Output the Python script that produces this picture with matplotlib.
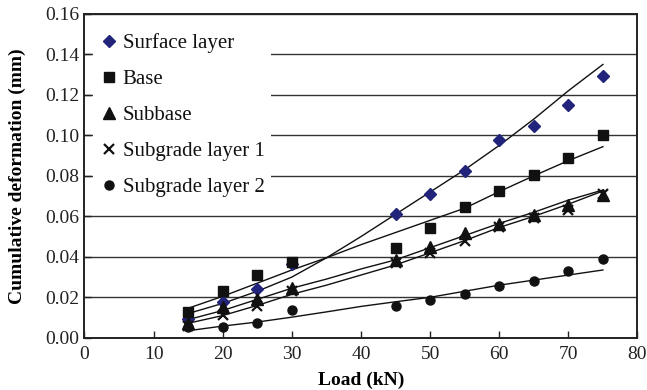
import matplotlib
matplotlib.use("Agg")
import matplotlib.pyplot as plt

plt.rcParams['font.family'] = ['Liberation Serif', 'DejaVu Serif']
plt.rcParams['mathtext.fontset'] = 'stix'

# Measured cumulative deformation (mm) versus load (kN)
loads = [15, 20, 25, 30, 45, 50, 55, 60, 65, 70, 75]
surface_layer = [0.0091, 0.0178, 0.0241, 0.0363, 0.0611, 0.0712, 0.0822, 0.0977, 0.1046, 0.1150, 0.1293]
base = [0.0127, 0.0230, 0.0310, 0.0373, 0.0442, 0.0544, 0.0648, 0.0727, 0.0806, 0.0889, 0.1000]
subbase = [0.0072, 0.0150, 0.0193, 0.0247, 0.0384, 0.0447, 0.0516, 0.0562, 0.0606, 0.0655, 0.0705]
subgrade_layer_1 = [0.0060, 0.0115, 0.0157, 0.0230, 0.0368, 0.0417, 0.0480, 0.0549, 0.0590, 0.0630, 0.0710]
subgrade_layer_2 = [0.0052, 0.0055, 0.0075, 0.0137, 0.0155, 0.0187, 0.0216, 0.0256, 0.0279, 0.0330, 0.0389]

# Predicted deformation curves
curve_loads = [15, 20, 25, 30, 35, 40, 45, 50, 55, 60, 65, 70, 75]
surface_curve = [0.0120, 0.0170, 0.0230, 0.0300, 0.0395, 0.0500, 0.0610, 0.0720, 0.0830, 0.0950, 0.1080, 0.1220, 0.1350]
base_curve = [0.0146, 0.0205, 0.0270, 0.0335, 0.0395, 0.0460, 0.0520, 0.0580, 0.0640, 0.0722, 0.0800, 0.0875, 0.0944]
subbase_curve = [0.0090, 0.0135, 0.0190, 0.0245, 0.0290, 0.0340, 0.0385, 0.0445, 0.0505, 0.0565, 0.0620, 0.0680, 0.0730]
subgrade1_curve = [0.0072, 0.0110, 0.0160, 0.0215, 0.0260, 0.0310, 0.0360, 0.0420, 0.0480, 0.0545, 0.0600, 0.0660, 0.0725]
subgrade2_curve = [0.0035, 0.0058, 0.0078, 0.0102, 0.0128, 0.0155, 0.0178, 0.0200, 0.0230, 0.0260, 0.0285, 0.0310, 0.0335]

x_ticks = [0, 10, 20, 30, 40, 50, 60, 70, 80]
y_ticks = [0.00, 0.02, 0.04, 0.06, 0.08, 0.10, 0.12, 0.14, 0.16]

fig = plt.figure(figsize=(6.47, 3.90), dpi=100)
ax = fig.add_axes([0.1306, 0.1338, 0.8547, 0.8308])

ax.set_xlim(0, 80)
ax.set_ylim(0, 0.16)
ax.set_xticks(x_ticks)
ax.set_yticks(y_ticks)
ax.set_yticklabels([f"{v:.2f}" for v in y_ticks])
ax.tick_params(direction='in', length=5, width=1, labelsize=14, colors='#222222')
ax.tick_params(axis='x', pad=6)
ax.yaxis.grid(True, color='#333333', linewidth=1.0)
ax.set_axisbelow(True)
for s in ax.spines.values():
    s.set_linewidth(1.4)
    s.set_color('#222222')

for curve in [surface_curve, base_curve, subbase_curve, subgrade1_curve, subgrade2_curve]:
    ax.plot(curve_loads, curve, color='#111111', linewidth=1.0, zorder=2)

ax.plot(loads, surface_layer, linestyle='none', marker='D', markersize=6.5,
        color='#22237a', label='Surface layer', zorder=3)
ax.plot(loads, base, linestyle='none', marker='s', markersize=6.5,
        color='#111111', label='Base', zorder=3)
ax.plot(loads, subbase, linestyle='none', marker='^', markersize=8,
        color='#111111', label='Subbase', zorder=3)
ax.plot(loads, subgrade_layer_1, linestyle='none', marker='x', markersize=7,
        markeredgewidth=1.6, color='#111111', label='Subgrade layer 1', zorder=3)
ax.plot(loads, subgrade_layer_2, linestyle='none', marker='o', markersize=6.5,
        color='#111111', label='Subgrade layer 2', zorder=3)

leg = ax.legend(loc='upper left', bbox_to_anchor=(0.016, 0.96), frameon=True,
                fontsize=15, labelspacing=0.79, handlelength=0.9,
                handletextpad=0.2, borderpad=0.3, borderaxespad=0.0)
leg.get_frame().set_edgecolor('none')
leg.get_frame().set_facecolor('white')
leg.get_frame().set_alpha(1.0)
for t in leg.get_texts():
    t.set_color('#111111')

ax.set_xlabel('Load (kN)', fontsize=14, fontweight='bold', labelpad=6)
ax.set_ylabel('Cumulative deformation (mm)', fontsize=14, fontweight='bold', labelpad=14)

fig.savefig('out.png', dpi=100)
